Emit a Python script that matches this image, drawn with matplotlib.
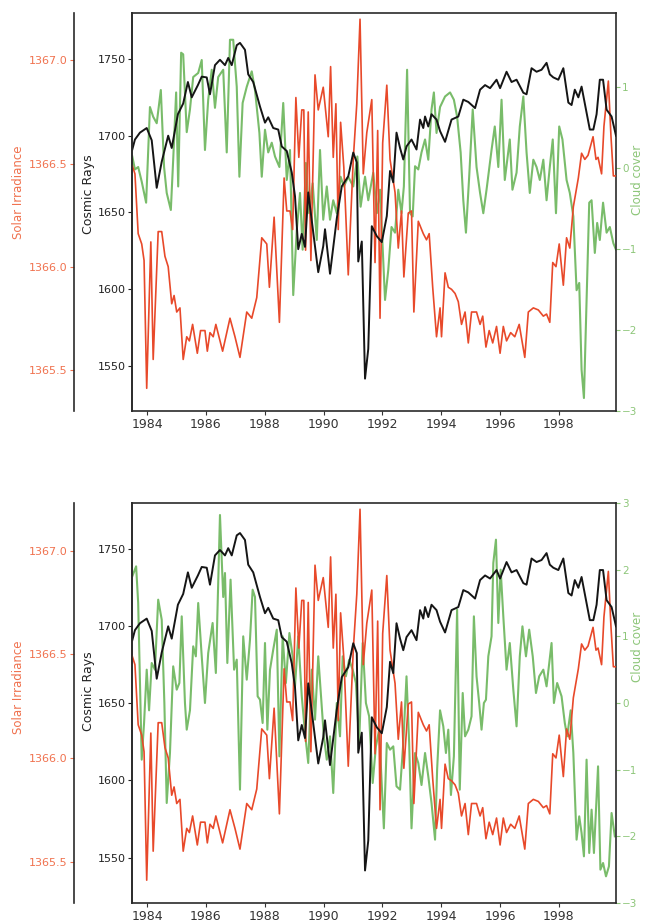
import matplotlib
matplotlib.use("Agg")
import matplotlib.pyplot as plt

# ---------------- data ----------------
cosmic_years = [1983.50, 1983.59, 1983.76, 1983.99, 1984.16, 1984.33, 1984.50, 1984.72, 1984.84, 1985.05,
                1985.23, 1985.39, 1985.52, 1985.73, 1985.86, 1986.03, 1986.14, 1986.31, 1986.48, 1986.65,
                1986.76, 1986.88, 1987.05, 1987.16, 1987.33, 1987.44, 1987.61, 1987.84, 1988.01, 1988.12,
                1988.29, 1988.46, 1988.58, 1988.75, 1988.92, 1989.03, 1989.14, 1989.26, 1989.37, 1989.48,
                1989.65, 1989.82, 1989.99, 1990.05, 1990.22, 1990.45, 1990.62, 1990.84, 1991.01, 1991.13,
                1991.18, 1991.30, 1991.41, 1991.52, 1991.64, 1991.81, 1991.98, 1992.15, 1992.26, 1992.37,
                1992.48, 1992.60, 1992.71, 1992.82, 1992.99, 1993.16, 1993.28, 1993.39, 1993.45, 1993.56,
                1993.67, 1993.84, 1993.96, 1994.13, 1994.35, 1994.58, 1994.75, 1994.92, 1995.15, 1995.32,
                1995.49, 1995.66, 1995.88, 1996.00, 1996.22, 1996.39, 1996.56, 1996.79, 1996.90, 1997.07,
                1997.24, 1997.41, 1997.58, 1997.69, 1997.81, 1997.98, 1998.15, 1998.32, 1998.43, 1998.54,
                1998.66, 1998.77, 1998.94, 1999.05, 1999.17, 1999.28, 1999.39, 1999.50, 1999.62, 1999.79,
                1999.94]
cosmic_rays = [1691, 1697.5, 1702, 1705, 1697, 1666, 1683, 1700, 1692, 1714,
               1721, 1735, 1725, 1733, 1738.5, 1738, 1727, 1746, 1749.5, 1746,
               1750.7, 1746, 1759, 1760.5, 1756, 1740, 1735, 1719, 1708.5, 1712,
               1705, 1704, 1693, 1690, 1676, 1660.5, 1626, 1636, 1627.5, 1663,
               1637, 1611, 1628, 1639, 1610, 1646, 1667, 1673.5, 1689, 1682.6,
               1618, 1631, 1541.6, 1561, 1641, 1634.5, 1630.6, 1647.6, 1677, 1669.6,
               1702, 1692, 1684.5, 1693, 1697.5, 1691, 1710.5, 1705, 1712.5, 1706,
               1714, 1710.5, 1703, 1696, 1710.5, 1712.5, 1723.5, 1722, 1718, 1730,
               1733, 1731, 1736.5, 1731, 1741.7, 1735, 1736.5, 1728, 1727, 1744,
               1741.7, 1743, 1747.5, 1740, 1738, 1736.5, 1744, 1721.6, 1720, 1730,
               1725, 1732, 1715, 1704, 1704, 1714, 1736.5, 1736.5, 1717, 1712.5,
               1700]

solar_years = [1983.50, 1983.59, 1983.70, 1983.82, 1983.90, 1983.99, 1984.13, 1984.21, 1984.38, 1984.50,
               1984.61, 1984.72, 1984.84, 1984.92, 1985.01, 1985.12, 1985.23, 1985.35, 1985.44, 1985.55,
               1985.71, 1985.82, 1985.97, 1986.05, 1986.14, 1986.25, 1986.34, 1986.57, 1986.82, 1986.99,
               1987.16, 1987.39, 1987.56, 1987.73, 1987.90, 1988.07, 1988.16, 1988.32, 1988.50, 1988.66,
               1988.75, 1988.86, 1988.95, 1989.06, 1989.16, 1989.26, 1989.33, 1989.39, 1989.48, 1989.57,
               1989.71, 1989.82, 1989.99, 1990.16, 1990.24, 1990.33, 1990.42, 1990.50, 1990.58, 1990.69,
               1990.84, 1991.01, 1991.13, 1991.24, 1991.35, 1991.47, 1991.64, 1991.75, 1991.84, 1991.92,
               1992.01, 1992.15, 1992.26, 1992.43, 1992.54, 1992.65, 1992.73, 1992.88, 1992.99, 1993.07,
               1993.22, 1993.39, 1993.50, 1993.59, 1993.71, 1993.84, 1993.96, 1994.01, 1994.13, 1994.24,
               1994.35, 1994.47, 1994.58, 1994.69, 1994.81, 1994.92, 1995.03, 1995.20, 1995.32, 1995.41,
               1995.52, 1995.63, 1995.75, 1995.88, 1996.00, 1996.11, 1996.22, 1996.36, 1996.50, 1996.65,
               1996.84, 1996.96, 1997.13, 1997.30, 1997.47, 1997.58, 1997.69, 1997.79, 1997.90, 1998.01,
               1998.15, 1998.26, 1998.37, 1998.49, 1998.66, 1998.77, 1998.88, 1998.99, 1999.16, 1999.26,
               1999.33, 1999.45, 1999.53, 1999.68, 1999.77, 1999.85, 1999.94]
solar_irradiance = [1366.49, 1366.45, 1366.16, 1366.11, 1366.03, 1365.41, 1366.12, 1365.55, 1366.17, 1366.17,
                    1366.05, 1366.00, 1365.82, 1365.86, 1365.78, 1365.80, 1365.55, 1365.66, 1365.64, 1365.72,
                    1365.58, 1365.69, 1365.69, 1365.59, 1365.68, 1365.66, 1365.72, 1365.59, 1365.75, 1365.66,
                    1365.56, 1365.78, 1365.75, 1365.85, 1366.14, 1366.11, 1365.90, 1366.24, 1365.73, 1366.43,
                    1366.27, 1366.27, 1366.18, 1366.82, 1366.53, 1366.76, 1366.76, 1366.08, 1366.75, 1366.03,
                    1366.93, 1366.76, 1366.87, 1366.63, 1366.97, 1366.53, 1366.79, 1366.18, 1366.70, 1366.48,
                    1365.96, 1366.52, 1366.79, 1367.20, 1366.45, 1366.65, 1366.81, 1366.02, 1366.66, 1365.75,
                    1366.60, 1366.88, 1366.52, 1366.36, 1366.09, 1366.27, 1365.95, 1366.26, 1366.27, 1365.78,
                    1366.22, 1366.16, 1366.13, 1366.16, 1365.90, 1365.66, 1365.80, 1365.66, 1365.97, 1365.90,
                    1365.89, 1365.87, 1365.83, 1365.72, 1365.78, 1365.63, 1365.78, 1365.78, 1365.72, 1365.76,
                    1365.61, 1365.69, 1365.63, 1365.71, 1365.58, 1365.71, 1365.64, 1365.68, 1365.66, 1365.72,
                    1365.56, 1365.78, 1365.80, 1365.79, 1365.76, 1365.77, 1365.73, 1366.02, 1366.00, 1366.11,
                    1365.91, 1366.14, 1366.09, 1366.29, 1366.43, 1366.55, 1366.52, 1366.54, 1366.63, 1366.52,
                    1366.53, 1366.45, 1366.68, 1366.90, 1366.63, 1366.44, 1366.44]

cloud_top_years = [1983.50, 1983.59, 1983.70, 1983.82, 1983.97, 1984.10, 1984.21, 1984.33, 1984.47, 1984.58,
                   1984.67, 1984.81, 1984.89, 1984.99, 1985.06, 1985.16, 1985.23, 1985.35, 1985.46, 1985.57,
                   1985.74, 1985.86, 1985.97, 1986.08, 1986.20, 1986.31, 1986.42, 1986.59, 1986.71, 1986.82,
                   1986.93, 1987.05, 1987.14, 1987.25, 1987.39, 1987.56, 1987.67, 1987.82, 1987.90, 1988.01,
                   1988.12, 1988.24, 1988.35, 1988.50, 1988.63, 1988.75, 1988.86, 1988.97, 1989.09, 1989.20,
                   1989.29, 1989.40, 1989.51, 1989.63, 1989.77, 1989.88, 1989.99, 1990.11, 1990.22, 1990.33,
                   1990.45, 1990.58, 1990.69, 1990.84, 1991.01, 1991.15, 1991.26, 1991.41, 1991.52, 1991.69,
                   1991.81, 1991.92, 1992.09, 1992.20, 1992.31, 1992.43, 1992.54, 1992.65, 1992.73, 1992.84,
                   1992.94, 1993.03, 1993.11, 1993.22, 1993.33, 1993.45, 1993.56, 1993.67, 1993.75, 1993.84,
                   1993.96, 1994.13, 1994.30, 1994.43, 1994.54, 1994.66, 1994.75, 1994.84, 1994.95, 1995.07,
                   1995.20, 1995.32, 1995.43, 1995.54, 1995.71, 1995.82, 1995.94, 1996.05, 1996.16, 1996.33,
                   1996.42, 1996.56, 1996.67, 1996.79, 1996.90, 1997.01, 1997.13, 1997.24, 1997.35, 1997.47,
                   1997.58, 1997.69, 1997.79, 1997.90, 1998.01, 1998.12, 1998.26, 1998.37, 1998.49, 1998.60,
                   1998.69, 1998.77, 1998.85, 1998.94, 1999.03, 1999.11, 1999.22, 1999.30, 1999.39, 1999.50,
                   1999.62, 1999.73, 1999.85, 1999.94]
cloud_top = [0.14, -0.02, 0.01, -0.17, -0.43, 0.75, 0.63, 0.55, 0.96, 0.01,
             -0.31, -0.52, 0.10, 0.93, -0.23, 1.42, 1.40, 0.44, 0.72, 1.12,
             1.17, 1.33, 0.22, 0.84, 1.21, 0.74, 1.12, 1.21, 0.19, 1.58,
             1.58, 1.00, -0.11, 0.80, 1.00, 1.19, 0.96, 0.43, -0.11, 0.47,
             0.19, 0.31, 0.14, 0.01, 0.80, -0.15, 0.22, -1.57, -0.77, -0.31,
             -1.01, 0.06, -0.56, -0.19, -0.89, 0.22, -0.64, -0.23, -0.64, -0.40,
             -0.56, -0.11, -0.23, -0.11, -0.23, 0.14, -0.48, -0.11, -0.40, -0.06,
             -0.56, -0.27, -1.63, -1.26, -0.73, -0.80, -0.27, -0.56, -0.23, 1.21,
             -0.56, -0.60, 0.02, -0.02, 0.19, 0.35, 0.10, 0.72, 0.93, 0.43,
             0.75, 0.88, 0.93, 0.84, 0.63, 0.19, -0.40, -0.80, -0.11, 0.72,
             0.01, -0.31, -0.56, -0.27, 0.22, 0.51, 0.01, 0.84, -0.15, 0.35,
             -0.27, -0.06, 0.51, 0.88, 0.19, -0.31, 0.10, 0.01, -0.15, 0.10,
             -0.40, 0.01, 0.35, -0.56, 0.51, 0.35, -0.15, -0.31, -0.60, -1.51,
             -1.42, -2.49, -2.84, -1.63, -0.43, -0.40, -1.05, -0.68, -0.89, -0.43,
             -0.80, -0.73, -0.93, -1.01]

cloud_bot_years = [1983.50, 1983.63, 1983.70, 1983.82, 1983.90, 1983.99, 1984.07, 1984.16, 1984.27, 1984.38,
                   1984.50, 1984.59, 1984.67, 1984.78, 1984.89, 1985.01, 1985.10, 1985.18, 1985.29, 1985.35,
                   1985.46, 1985.57, 1985.66, 1985.74, 1985.86, 1985.97, 1986.08, 1986.23, 1986.34, 1986.48,
                   1986.59, 1986.65, 1986.73, 1986.84, 1986.96, 1987.05, 1987.16, 1987.27, 1987.39, 1987.50,
                   1987.59, 1987.67, 1987.76, 1987.84, 1987.93, 1988.01, 1988.09, 1988.18, 1988.29, 1988.41,
                   1988.50, 1988.61, 1988.72, 1988.84, 1988.95, 1989.03, 1989.14, 1989.26, 1989.37, 1989.48,
                   1989.60, 1989.71, 1989.82, 1989.93, 1990.01, 1990.11, 1990.22, 1990.33, 1990.45, 1990.56,
                   1990.65, 1990.76, 1990.87, 1990.99, 1991.10, 1991.21, 1991.33, 1991.44, 1991.55, 1991.67,
                   1991.78, 1991.89, 1992.05, 1992.15, 1992.26, 1992.37, 1992.48, 1992.60, 1992.71, 1992.82,
                   1992.91, 1992.99, 1993.11, 1993.22, 1993.33, 1993.45, 1993.56, 1993.67, 1993.79, 1993.86,
                   1993.96, 1994.07, 1994.16, 1994.24, 1994.33, 1994.43, 1994.54, 1994.63, 1994.73, 1994.81,
                   1994.92, 1995.03, 1995.11, 1995.20, 1995.29, 1995.37, 1995.45, 1995.52, 1995.60, 1995.71,
                   1995.77, 1995.86, 1995.94, 1996.02, 1996.11, 1996.22, 1996.33, 1996.45, 1996.56, 1996.67,
                   1996.76, 1996.88, 1996.99, 1997.11, 1997.22, 1997.33, 1997.47, 1997.58, 1997.67, 1997.75,
                   1997.83, 1997.94, 1998.09, 1998.20, 1998.28, 1998.40, 1998.49, 1998.60, 1998.69, 1998.77,
                   1998.85, 1998.94, 1999.03, 1999.11, 1999.19, 1999.33, 1999.41, 1999.50, 1999.60, 1999.70,
                   1999.79, 1999.90]
cloud_bot = [1.90, 2.05, 1.50, -0.85, -0.30, 0.50, -0.11, 0.60, 0.50, 1.55,
             1.25, 0.00, -1.50, -0.75, 0.55, 0.20, 0.30, 1.30, 0.00, -0.40,
             -0.11, 0.85, 0.70, 1.50, 0.70, 0.00, 0.75, 1.20, 0.45, 2.82,
             1.59, 1.95, 0.60, 1.85, 0.50, 0.65, -1.30, 1.00, 0.35, 0.95,
             1.70, 1.59, 0.10, 0.05, -0.30, 0.90, -0.40, 0.50, 0.80, 1.10,
             -0.80, 1.00, 0.30, 1.05, 0.70, 0.25, 1.00, 0.10, -0.45, -0.90,
             0.50, -0.25, 0.70, 0.00, -0.50, -0.85, -0.50, -1.35, 0.00, -0.50,
             0.70, 0.40, 0.65, 0.50, 0.30, -0.60, 0.90, 0.00, -0.20, -1.20,
             -0.65, -0.40, -1.88, -0.60, -0.70, -0.65, -1.25, -1.30, -0.60, 0.40,
             -0.60, -1.88, -0.75, -0.90, -1.23, -0.75, -1.10, -1.50, -2.05, -1.00,
             -0.11, -0.35, -0.75, -0.40, -1.38, -0.80, 1.40, -1.30, 0.15, -0.50,
             -0.40, -0.20, 1.30, 0.40, 0.00, -0.40, 0.00, 0.05, 0.70, 1.00,
             2.10, 2.45, 1.20, 2.00, 1.30, 0.50, 0.90, 0.20, -0.35, 0.70,
             1.15, 0.70, 1.10, 0.70, 0.15, 0.40, 0.50, 0.25, 0.60, 0.90,
             0.00, 0.30, 0.10, -0.30, -0.50, -0.11, -0.75, -2.05, -1.70, -1.95,
             -2.30, -0.85, -2.25, -1.60, -2.25, -0.95, -2.50, -2.40, -2.60, -2.45,
             -1.65, -2.00]

year_ticks = [1984, 1986, 1988, 1990, 1992, 1994, 1996, 1998]
cosmic_ticks = [1550, 1600, 1650, 1700, 1750]
solar_ticks = [1365.5, 1366.0, 1366.5, 1367.0]
cloud_top_ticks = [-3, -2, -1, 0, 1]
cloud_bot_ticks = [-3, -2, -1, 0, 1, 2, 3]

# ---------------- style ----------------
RED = "#E8492A"
GREEN = "#6BB55A"
BLACK = "#151515"
RED_TXT = "#F0724F"
GREEN_TXT = "#8DC679"
SPINE = "#2a2a2a"

plt.rcParams['font.family'] = ['DejaVu Sans']

W, H = 651, 924
fig = plt.figure(figsize=(W / 100, H / 100), dpi=100)


def panel(top_px, bot_px, cloud_years, cloud_vals, cloud_lim, cloud_ticks, lab_y):
    rect = [132 / W, (H - bot_px) / H, (616 - 132) / W, (bot_px - top_px) / H]
    ax_cloud = fig.add_axes(rect, zorder=1)
    ax_solar = fig.add_axes(rect, zorder=2, sharex=ax_cloud)
    ax = fig.add_axes(rect, zorder=3, sharex=ax_cloud)
    ax_solar.patch.set_visible(False)
    ax.patch.set_visible(False)

    # cloud cover (right)
    ax_cloud.plot(cloud_years, cloud_vals, color=GREEN, lw=1.5, alpha=0.9)
    ax_cloud.set_ylim(*cloud_lim)
    ax_cloud.set_yticks(cloud_ticks)
    ax_cloud.yaxis.tick_right()
    ax_cloud.yaxis.set_label_position('right')
    ax_cloud.tick_params(axis='y', colors=GREEN_TXT, labelsize=7.5, length=3, width=0.8, pad=1.5)
    ax_cloud.set_ylabel('Cloud cover', color=GREEN_TXT, fontsize=8.5)
    ax_cloud.yaxis.set_label_coords(1.03, lab_y[2])
    ax_cloud.tick_params(axis='x', colors='#333333', labelsize=9, length=3, width=0.8, pad=2)
    ax_cloud.set_xticks(year_ticks)
    for s in ['top', 'bottom', 'left', 'right']:
        ax_cloud.spines[s].set_color(SPINE)
        ax_cloud.spines[s].set_linewidth(1.2)

    # solar irradiance (offset left)
    ax_solar.plot(solar_years, solar_irradiance, color=RED, lw=1.2)
    ax_solar.set_ylim(1365.30, 1367.23)
    ax_solar.set_yticks(solar_ticks)
    ax_solar.set_yticklabels([f"{v:.1f}" for v in solar_ticks])
    for s in ['top', 'bottom', 'right']:
        ax_solar.spines[s].set_visible(False)
    ax_solar.spines['left'].set_position(('outward', 42))
    ax_solar.spines['left'].set_color(SPINE)
    ax_solar.spines['left'].set_linewidth(1.2)
    ax_solar.tick_params(axis='y', colors=RED_TXT, labelsize=8, length=3, width=0.8, pad=1.5)
    ax_solar.tick_params(axis='x', bottom=False, labelbottom=False)
    ax_solar.set_ylabel('Solar Irradiance', color=RED_TXT, fontsize=8.5)
    ax_solar.yaxis.set_label_coords(-0.222, lab_y[0])

    # cosmic rays (left)
    ax.plot(cosmic_years, cosmic_rays, color=BLACK, lw=1.4)
    ax.set_ylim(1520.5, 1780)
    ax.set_yticks(cosmic_ticks)
    ax.set_xlim(1983.49, 1999.94)
    for s in ['top', 'bottom', 'right']:
        ax.spines[s].set_visible(False)
    ax.spines['left'].set_color(SPINE)
    ax.spines['left'].set_linewidth(1.2)
    ax.tick_params(axis='y', colors='#222222', labelsize=8, length=3, width=0.8, pad=1.5)
    ax.tick_params(axis='x', bottom=False, labelbottom=False)
    ax.set_ylabel('Cosmic Rays', color='#222222', fontsize=9)
    ax.yaxis.set_label_coords(-0.076, lab_y[1])


panel(13, 411, cloud_top_years, cloud_top, (-3, 1.91), cloud_top_ticks, (0.55, 0.545, 0.58))
panel(503, 903, cloud_bot_years, cloud_bot, (-3, 3), cloud_bot_ticks, (0.54, 0.53, 0.64))

fig.savefig("out.png", dpi=100)
